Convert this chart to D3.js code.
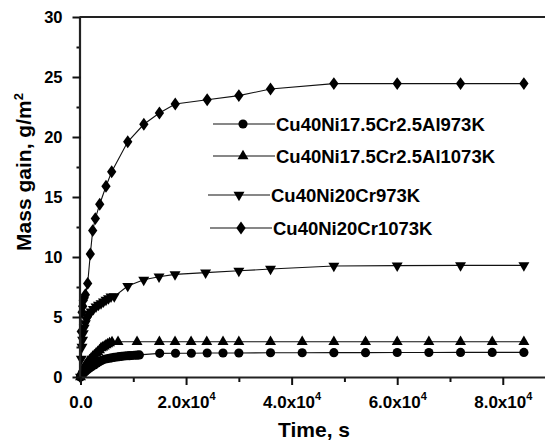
<!DOCTYPE html>
<html><head><meta charset="utf-8">
<script src="https://cdn.jsdelivr.net/npm/d3@7"></script>
<style>body{margin:0;background:#fff}svg{display:block}text{font-family:"Liberation Sans",Arial,sans-serif;font-weight:bold;fill:#000}</style>
</head><body><svg id="c" width="545" height="442"></svg>
<script>
const seriesNames = ["Cu40Ni17.5Cr2.5Al973K","Cu40Ni17.5Cr2.5Al1073K","Cu40Ni20Cr973K","Cu40Ni20Cr1073K"];
const seriesSymbols = ["circle","triangle","invtriangle","diamond"];
const alloyAl973T = [0,300,600,920,1300,1670,2100,2620,3100,3560,4000,4500,5000,5460,5900,6400,6900,7360,7800,8300,8800,9250,9700,10200,10700,11150,15000,18000,21000,24000,27000,30000,36000,42000,48000,54000,60000,66000,72000,78000,84000];
const alloyAl973V = [0,0.2,0.33,0.45,0.6,0.72,0.86,1.0,1.15,1.28,1.38,1.47,1.52,1.56,1.6,1.64,1.67,1.7,1.72,1.75,1.77,1.78,1.79,1.81,1.82,1.84,1.97,1.98,1.98,2.0,2.0,2.0,2.02,2.02,2.03,2.03,2.04,2.04,2.05,2.05,2.05];
const alloyAl1073T = [0,250,530,920,1360,1700,2000,2300,2620,2950,3260,3600,3890,4200,4500,4830,5150,5500,5970,7110,10710,14940,17910,20950,23920,27000,30000,36000,42000,48000,54000,60000,66000,72000,78000,84000];
const alloyAl1073V = [0,0.45,0.7,1.0,1.28,1.42,1.55,1.7,1.83,1.97,2.1,2.25,2.4,2.48,2.55,2.65,2.75,2.82,2.92,2.94,2.94,2.94,2.94,2.94,2.94,2.94,2.94,2.94,2.94,2.94,2.94,2.94,2.94,2.94,2.94,2.94];
const alloyCr973T = [0,150,285,400,530,700,920,1150,1360,1700,2000,2450,2940,3400,3890,4350,4830,5300,5780,6400,8950,11980,14880,17910,23700,30000,36000,48000,60000,72000,84000];
const alloyCr973V = [0,1.5,2.5,3.1,3.64,4.1,4.47,4.8,5.03,5.25,5.44,5.65,5.86,6.0,6.14,6.28,6.42,6.55,6.69,6.72,7.58,8.1,8.36,8.55,8.7,8.85,9.0,9.25,9.28,9.3,9.3];
const alloyCr1073T = [0,150,300,420,530,700,920,1360,1860,2310,2810,3640,4830,5910,8950,12000,14950,17950,24000,30000,36000,48000,60000,72000,84000];
const alloyCr1073V = [0,3.8,5.4,5.9,6.4,6.6,6.85,7.8,10.25,12.2,13.2,14.4,15.9,17.1,19.6,21.06,22.0,22.75,23.1,23.45,24.0,24.45,24.45,24.45,24.45];
const xMajorTicks = [0,20000,40000,60000,80000];
const xTickMantissa = ["0.0","2.0x10","4.0x10","6.0x10","8.0x10"];
const xTickExp = ["","4","4","4","4"];
const yMajorTicks = [0,5,10,15,20,25,30];

const series = [
  {t:alloyAl973T,v:alloyAl973V},{t:alloyAl1073T,v:alloyAl1073V},
  {t:alloyCr973T,v:alloyCr973V},{t:alloyCr1073T,v:alloyCr1073V}
];
const svg = d3.select("#c");
const L=80.5, R=545, T=17, B=377;
const x = d3.scaleLinear().domain([0,88000]).range([L,R]);
const y = d3.scaleLinear().domain([0,30]).range([B,T]);

function sym(type){
  if(type==="circle") return d3.symbol(d3.symbolCircle,66)();
  if(type==="triangle") return d3.symbol(d3.symbolTriangle,52)();
  if(type==="invtriangle") return d3.symbol(d3.symbolTriangle,52)();
  return d3.symbol(d3.symbolDiamond,48)();
}
function symTransform(type,px,py){
  if(type==="invtriangle") return `translate(${px},${py}) rotate(180)`;
  if(type==="diamond") return `translate(${px},${py}) scale(1.25,1)`;
  return `translate(${px},${py})`;
}

// data
const line = d3.line().x(d=>x(d[0])).y(d=>y(d[1]));
series.forEach((s,i)=>{
  const pts = s.t.map((tt,k)=>[tt,s.v[k]]);
  svg.append("path").attr("d",line(pts)).attr("fill","none").attr("stroke","#111").attr("stroke-width",1.1);
  svg.append("g").selectAll("path").data(pts).join("path")
    .attr("d",sym(seriesSymbols[i])).attr("fill","#000")
    .attr("transform",d=>symTransform(seriesSymbols[i],x(d[0]),y(d[1])));
});

// axes
const xMinor = d3.range(10000,90000,20000);
svg.append("g").attr("transform",`translate(0,${B})`)
  .call(d3.axisBottom(x).tickValues(xMinor).tickSize(5).tickFormat(""))
  .call(g=>{g.select(".domain").remove();g.selectAll("line").attr("stroke","#111").attr("stroke-width",2);});
const gx = svg.append("g").attr("transform",`translate(0,${B})`)
  .call(d3.axisBottom(x).tickValues(xMajorTicks).tickSize(8).tickFormat(""));
gx.select(".domain").attr("stroke","#222").attr("stroke-width",2.2).attr("d",`M${L},0.5H${R}`);
gx.selectAll("line").attr("stroke","#111").attr("stroke-width",2);
gx.selectAll(".tick").each(function(d,i){
  const t = d3.select(this).append("text").attr("y",31).attr("text-anchor","middle").style("font-size","17px");
  t.append("tspan").text(xTickMantissa[i]);
  if(xTickExp[i]) t.append("tspan").attr("dy",-8).style("font-size","11px").text(xTickExp[i]);
});

const yMinor = d3.range(2.5,30,5);
svg.append("g").attr("transform",`translate(${L},0)`)
  .call(d3.axisLeft(y).tickValues(yMinor).tickSize(4).tickFormat(""))
  .call(g=>{g.select(".domain").remove();g.selectAll("line").attr("stroke","#111").attr("stroke-width",2);});
const gy = svg.append("g").attr("transform",`translate(${L},0)`)
  .call(d3.axisLeft(y).tickValues(yMajorTicks).tickSize(8).tickFormat(d3.format("d")));
gy.select(".domain").attr("stroke","#222").attr("stroke-width",2.2).attr("d",`M-0.5,${T}V${B}`);
gy.selectAll("line").attr("stroke","#111").attr("stroke-width",2);
gy.selectAll("text").attr("x",-18).attr("dy","0.36em").style("font-size","16.5px").style("font-family","'Liberation Sans',Arial,sans-serif").style("font-weight","bold");

// top frame line
svg.append("line").attr("x1",L-1).attr("x2",R).attr("y1",T).attr("y2",T).attr("stroke","#222").attr("stroke-width",2.2);

// axis titles
svg.append("text").attr("x",314).attr("y",437).attr("text-anchor","middle").style("font-size","21px").text("Time, s");
const yt = svg.append("text").attr("transform","translate(31,172) rotate(-90)").attr("text-anchor","middle").style("font-size","21px");
yt.append("tspan").text("Mass gain, g/m");
yt.append("tspan").attr("dy",-8).style("font-size","13px").text("2");

// legend
const legendRows = [
  {x1:213,x2:275,mx:243,y:124,tx:276},
  {x1:213,x2:275,mx:243,y:156,tx:276},
  {x1:208,x2:270,mx:239,y:195,tx:271},
  {x1:210,x2:272,mx:241,y:228,tx:273}
];
legendRows.forEach((r,i)=>{
  svg.append("line").attr("x1",r.x1).attr("x2",r.x2).attr("y1",r.y).attr("y2",r.y).attr("stroke","#111").attr("stroke-width",1.1);
  svg.append("path").attr("d",sym(seriesSymbols[i])).attr("fill","#000").attr("transform",symTransform(seriesSymbols[i],r.mx,r.y));
  svg.append("text").attr("x",r.tx).attr("y",r.y).attr("dy","0.36em").style("font-size","18.5px").text(seriesNames[i]);
});
</script></body></html>
